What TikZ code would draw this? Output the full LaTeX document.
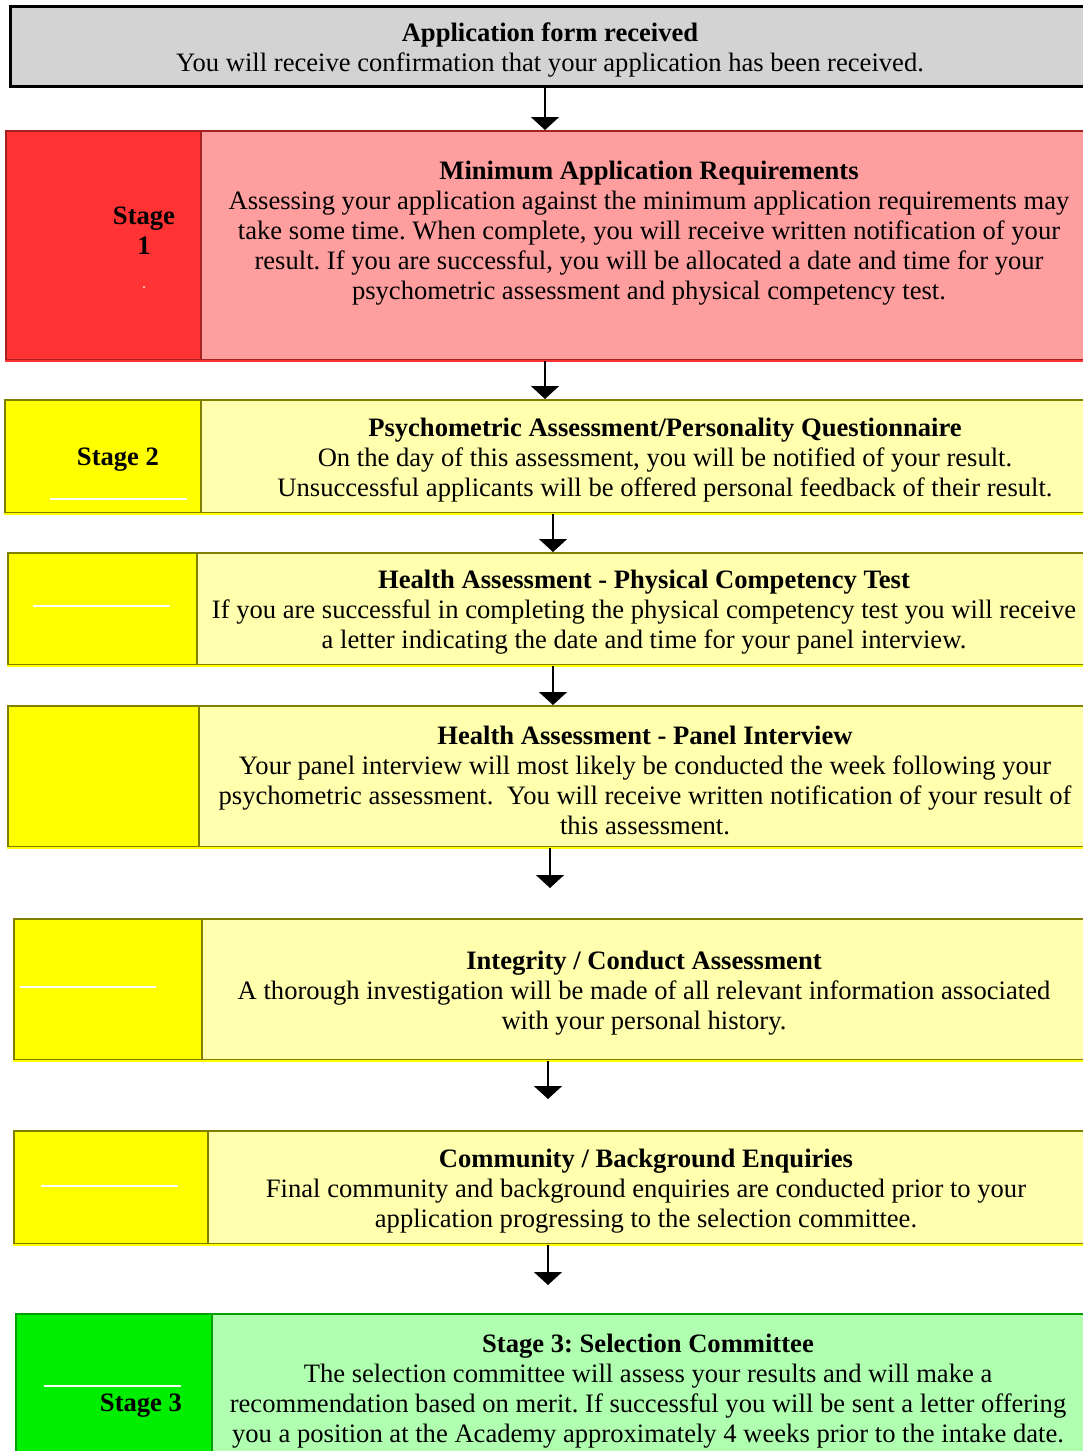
\documentclass[tikz,border=0pt]{standalone}
\usepackage{fontspec}
\setmainfont{Liberation Serif}
\usetikzlibrary{arrows.meta}
\usepackage{xcolor}
\frenchspacing

\definecolor{appgrey}{HTML}{D3D3D3}
\definecolor{stagered}{HTML}{FF3333}
\definecolor{reqpink}{HTML}{FF9E9E}
\definecolor{redline}{HTML}{A82020}
\definecolor{stageyellow}{HTML}{FFFF00}
\definecolor{paleyellow}{HTML}{FFFFAE}
\definecolor{oliveline}{HTML}{808000}
\definecolor{stagegreen}{HTML}{00EE00}
\definecolor{palegreen}{HTML}{B0FFB0}
\definecolor{greenline}{HTML}{00A000}

\begin{document}
\begin{tikzpicture}
	[x=1pt, y=-1pt,
	cell/.style = {
		rectangle, anchor=north west, inner sep=0pt, line width=2pt
	},
	txt/.style = {
		align=center, inner sep=0pt,
		font=\fontsize{26.6}{30}\selectfont
	},
	stagelbl/.style = {
		align=center, inner sep=0pt,
		font=\fontsize{26.6}{30}\selectfont\bfseries
	},
	flow/.style = {
		-{Triangle[width=28pt,length=13pt]}, line width=1.5pt
	},
	gap/.style = {
		draw=white, line width=1.5pt
	},
	dot/.style = {
		fill=white, circle, inner sep=0pt, minimum size=2pt
	}]
	
	\useasboundingbox (0,0) rectangle (1083,1451);
	\clip (0,0) rectangle (1083,1451);
	
	%Draw cells
	\node[cell, fill=appgrey, draw=black, line width=3pt, minimum width=1090pt, minimum height=80pt] (app) at (9,5) {};
	
	\node[cell, fill=stagered, draw=redline, minimum width=195pt, minimum height=229pt] (s1) at (5,130) {};
	\node[cell, fill=reqpink, draw=redline, minimum width=900pt, minimum height=229pt] (r1) at (200,130) {};
	
	\node[cell, fill=stageyellow, draw=oliveline, minimum width=196pt, minimum height=113pt] (s2) at (4,399) {};
	\node[cell, fill=paleyellow, draw=oliveline, minimum width=900pt, minimum height=113pt] (r2) at (200,399) {};
	
	\node[cell, fill=stageyellow, draw=oliveline, minimum width=189pt, minimum height=112pt] (s3) at (7,552) {};
	\node[cell, fill=paleyellow, draw=oliveline, minimum width=900pt, minimum height=112pt] (r3) at (196,552) {};
	
	\node[cell, fill=stageyellow, draw=oliveline, minimum width=191pt, minimum height=141pt] (s4) at (7,705) {};
	\node[cell, fill=paleyellow, draw=oliveline, minimum width=900pt, minimum height=141pt] (r4) at (198,705) {};
	
	\node[cell, fill=stageyellow, draw=oliveline, minimum width=188pt, minimum height=141pt] (s5) at (13,918) {};
	\node[cell, fill=paleyellow, draw=oliveline, minimum width=900pt, minimum height=141pt] (r5) at (201,918) {};
	
	\node[cell, fill=stageyellow, draw=oliveline, minimum width=194pt, minimum height=113pt] (s6) at (13,1130) {};
	\node[cell, fill=paleyellow, draw=oliveline, minimum width=900pt, minimum height=113pt] (r6) at (207,1130) {};
	
	\node[cell, fill=stagegreen, draw=greenline, minimum width=196pt, minimum height=160pt] (s7) at (15,1313) {};
	\node[cell, fill=palegreen, draw=greenline, minimum width=900pt, minimum height=160pt] (r7) at (211,1313) {};
	
	%lighter bottom edges
	\draw[line width=2pt, stagered] (s1.south west) -- (r1.south east);
	\draw[line width=2pt, stageyellow] (s2.south west) -- (r2.south east);
	\draw[line width=2pt, stageyellow] (s3.south west) -- (r3.south east);
	\draw[line width=2pt, stageyellow] (s4.south west) -- (r4.south east);
	\draw[line width=2pt, stageyellow] (s5.south west) -- (r5.south east);
	\draw[line width=2pt, stageyellow] (s6.south west) -- (r6.south east);
	
	%Draw texts
	\node[txt] (tapp) at (550,50) {\textbf{Application form received}\\
		You will receive confirmation that your application has been received.};
	
	\node[stagelbl] (l1) at (144,231) {Stage\\1};
	\node[txt] (t1) at (649,233) {\textbf{Minimum Application Requirements}\\
		Assessing your application against the minimum application requirements may\\
		take some time. When complete, you will receive written notification of your\\
		result. If you are successful, you will be allocated a date and time for your\\
		psychometric assessment and physical competency test.};
	
	\node[stagelbl] (l2) at (118,460) {Stage 2};
	\node[txt] (t2) at (665,460) {\textbf{Psychometric Assessment/Personality Questionnaire}\\
		On the day of this assessment, you will be notified of your result.\\
		Unsuccessful applicants will be offered personal feedback of their result.};
	
	\node[txt] (t3) at (644,612) {\textbf{Health Assessment - Physical Competency Test}\\
		If you are successful in completing the physical competency test you will receive\\
		a letter indicating the date and time for your panel interview.};
	
	\node[txt] (t4) at (645,780) {\textbf{Health Assessment - Panel Interview}\\
		Your panel interview will most likely be conducted the week following your\\
		psychometric assessment.\ \ You will receive written notification of your result of\\
		this assessment.};
	
	\node[txt] (t5) at (644,993) {\textbf{Integrity / Conduct Assessment}\\
		A thorough investigation will be made of all relevant information associated\\
		with your personal history.};
	
	\node[txt] (t6) at (646,1191) {\textbf{Community / Background Enquiries}\\
		Final community and background enquiries are conducted prior to your\\
		application progressing to the selection committee.};
	
	\node[stagelbl] (l7) at (141,1406) {Stage 3};
	\node[txt] (t7) at (648,1391) {\textbf{Stage 3: Selection Committee}\\
		The selection committee will assess your results and will make a\\
		recommendation based on merit. If successful you will be sent a letter offering\\
		you a position at the Academy approximately 4 weeks prior to the intake date.};
	
	%white marks in stage cells
	\node[dot] (d1) at (144,287) {};
	\draw[gap] (50,499) -- (187,499);
	\draw[gap] (33,606) -- (170,606);
	\draw[gap] (20,987) -- (156,987);
	\draw[gap] (41,1186) -- (178,1186);
	\draw[gap] (44,1386) -- (181,1386);
	
	%Draw arrows
	\draw[flow] (app.south -| 545,0) -- (r1.north -| 545,0);
	\draw[flow] (r1.south -| 545,0) -- (r2.north -| 545,0);
	\draw[flow] (r2.south -| 553,0) -- (r3.north -| 553,0);
	\draw[flow] (r3.south -| 553,0) -- (r4.north -| 553,0);
	\draw[flow] (r4.south -| 550,0) -- ++(0,40);
	\draw[flow] (r5.south -| 548,0) -- ++(0,38);
	\draw[flow] (r6.south -| 548,0) -- ++(0,40);
	
\end{tikzpicture}
\end{document}
